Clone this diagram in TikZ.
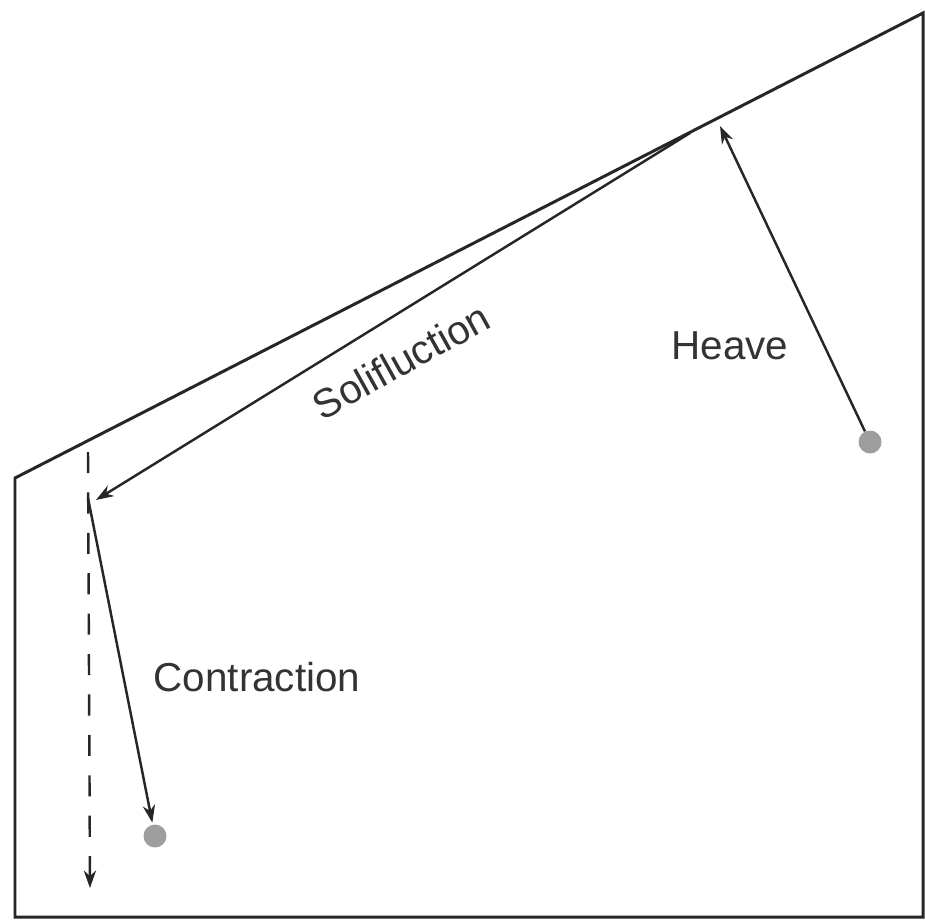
\documentclass[tikz,border=0pt]{standalone}
\usepackage{fontspec}
\setmainfont{Liberation Sans}
\usetikzlibrary{arrows.meta}

\begin{document}
\begin{tikzpicture}[x=0.02cm, y=-0.02cm, >={Stealth[length=10pt, width=7pt]}]
  \useasboundingbox (0,0) rectangle (925,921);
  \tikzset{
    frameline/.style={line width=1.7pt, draw=black!85},
    movearrow/.style={->, line width=1.4pt, draw=black!85},
    particle/.style={circle, fill=black!38, inner sep=0pt, minimum size=0.46cm},
    label/.style={text=black!80, font=\fontsize{23}{26}\selectfont}
  }

  % Slope block
  \coordinate (SL) at (15,478);
  \coordinate (SR) at (923,13);
  \draw[frameline] (SL) -- (SR) -- (923,917) -- (15,917) -- cycle;

  % Particles
  \node[particle] (P1) at (870,442) {};
  \node[particle] (P2) at (155,836) {};

  % Coordinates
  \coordinate (T) at (720,126);
  \coordinate (S) at (690,133);
  \coordinate (E) at (96,500);
  \coordinate (C) at (88,498);
  \coordinate (D1) at (88,452);
  \coordinate (D2) at (90,888);

  % Heave (normal to the surface)
  \draw[movearrow] (P1) -- (T);

  % Solifluction (down the slope)
  \draw[movearrow] (S) -- (E);

  % Contraction (back into the ground)
  \draw[movearrow, shorten >=1pt] (C) -- (P2);

  % Vertical settling
  \draw[movearrow, dash pattern=on 12pt off 11pt] (D1) -- (D2);

  % Labels
  \node[label] (heave) at (730,346) {Heave};
  \node[label, rotate=29] (solif) at (401,361) {Solifluction};
  \node[label] (contr) at (257,677) {Contraction};
\end{tikzpicture}
\end{document}
